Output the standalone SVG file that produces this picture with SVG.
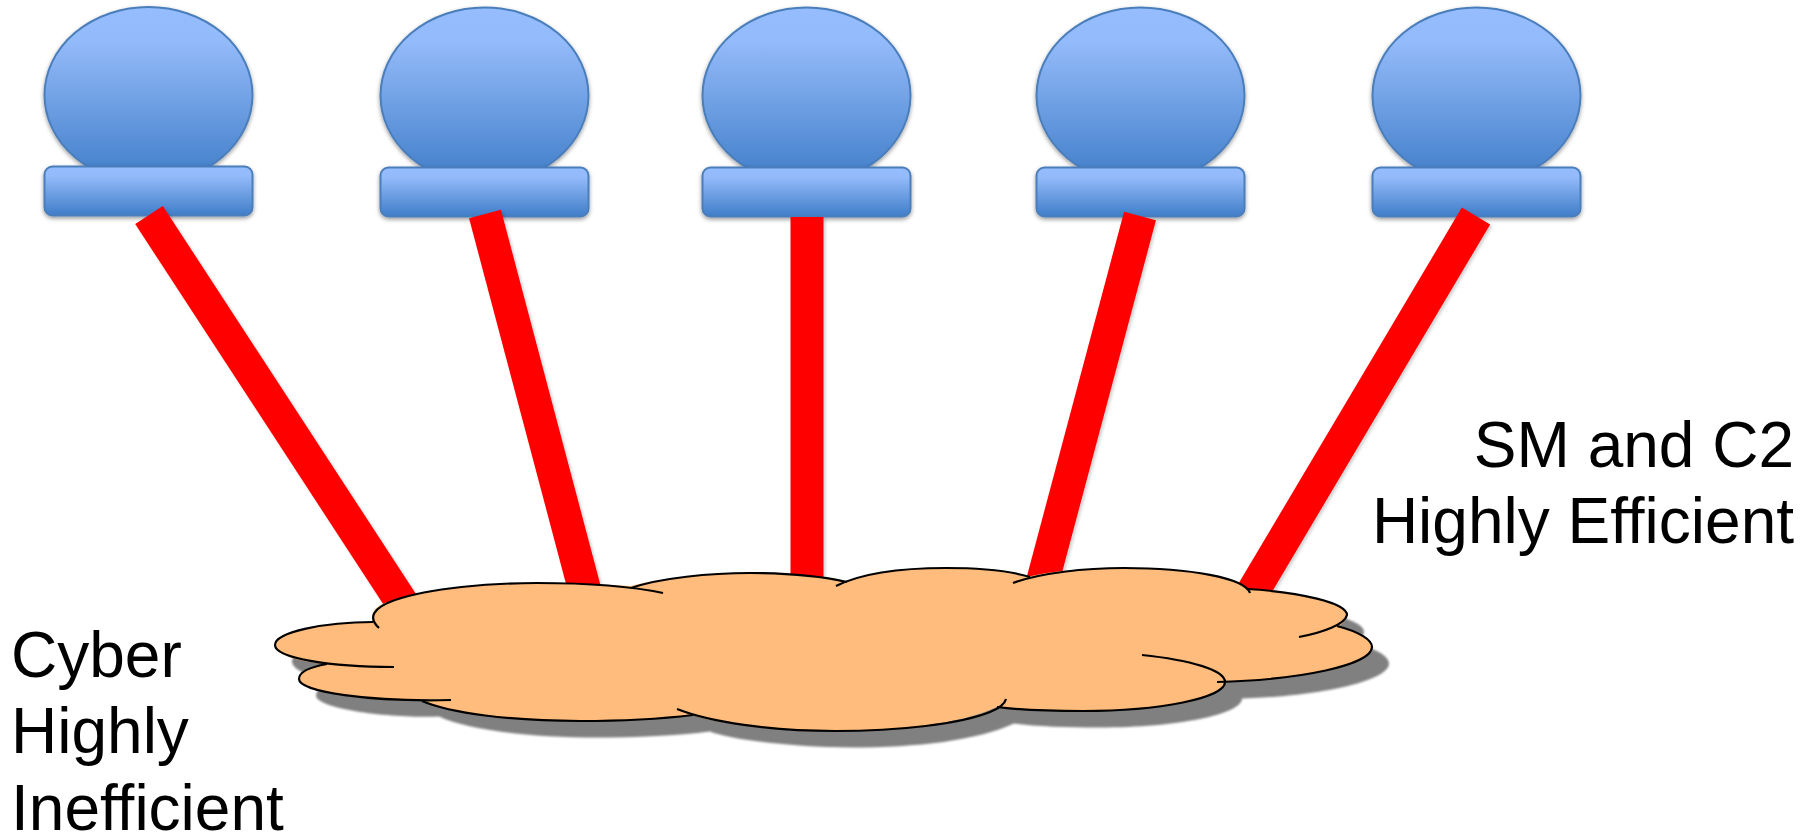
<svg xmlns="http://www.w3.org/2000/svg" width="1812" height="838" viewBox="0 0 1812 838">
<style>
.b{fill:url(#blue);stroke:#4a7ebb;stroke-width:2;filter:url(#soft)}
.l{stroke:#f00;stroke-width:33;fill:none;filter:url(#soft2)}
.c{fill:none;stroke:#000;stroke-width:2.2;stroke-linecap:butt}
.t{font-family:"Liberation Sans",Arial,sans-serif;font-size:64px;fill:#000}
</style>
<defs>
<linearGradient id="blue" x1="0" y1="0" x2="0" y2="1"><stop offset="0" stop-color="#95bdff"/><stop offset=".2" stop-color="#93baf9"/><stop offset="1" stop-color="#3f7dc8"/></linearGradient>
<filter id="soft" x="-10%" y="-10%" width="120%" height="125%"><feDropShadow dx="0" dy="2" stdDeviation="2" flood-color="#000" flood-opacity=".4"/></filter>
<filter id="soft2" filterUnits="userSpaceOnUse" x="0" y="0" width="1812" height="838"><feDropShadow dx="2" dy="2" stdDeviation="1.5" flood-color="#000" flood-opacity=".18"/></filter>
<filter id="blur" x="-5%" y="-10%" width="110%" height="120%"><feGaussianBlur stdDeviation="0.8"/></filter>
<path id="sil" d="M275,645 C275,632 325,622 373,622 C368,608 385,602 395,600 C430,588 490,583 537,583 C570,583 605,585 631,586 C660,578 710,573 750,573 C790,573 820,577 847,582 C860,574 900,568 946,568 C975,568 1005,571 1027,577 C1050,571 1085,568 1124,568 C1190,568 1240,578 1247,589 C1300,592 1347,603 1347,615 C1347,619 1343,624 1337,627 C1360,632 1372,640 1372,647 C1372,665 1300,680 1225,682 C1225,698 1160,711 1083,711 C1050,711 1020,710 997,707 C960,724 900,731 835,731 C770,731 710,722 693,715 C660,719 620,721 580,721 C510,721 450,713 422,700 C370,702 299,692 299,679 C299,672 310,667 327,664 C300,662 275,655 275,645 Z"/>
</defs>
<g id="node1"><ellipse class="b" cx="148.500" cy="95" rx="104" ry="88"/><rect class="b" x="44.500" y="166.500" width="208" height="49" rx="8"/></g>
<g id="node2"><ellipse class="b" cx="484.500" cy="95.500" rx="104" ry="88"/><rect class="b" x="380.500" y="167.500" width="208" height="49" rx="8"/></g>
<g id="node3"><ellipse class="b" cx="806.500" cy="95.500" rx="104" ry="88"/><rect class="b" x="702.500" y="167.500" width="208" height="49" rx="8"/></g>
<g id="node4"><ellipse class="b" cx="1140.500" cy="95.500" rx="104" ry="88"/><rect class="b" x="1036.500" y="167.500" width="208" height="49" rx="8"/></g>
<g id="node5"><ellipse class="b" cx="1476.500" cy="95.500" rx="104" ry="88"/><rect class="b" x="1372.500" y="167.500" width="208" height="49" rx="8"/></g>
<g id="connectors">
<line class="l" x1="149" y1="215" x2="410" y2="615"/>
<line class="l" x1="485" y1="214" x2="590" y2="610"/>
<line class="l" x1="807" y1="217" x2="807" y2="610"/>
<line class="l" x1="1140" y1="216" x2="1035" y2="610"/>
<line class="l" x1="1476" y1="216" x2="1242" y2="610"/>
</g>
<g id="cloud">
<use href="#sil" fill="#808080" transform="translate(17,16.500)" filter="url(#blur)"/>
<use href="#sil" fill="#ffbc7c"/>
<path class="c" d="M373,622 C325,622 275,632 275,645 C275,658 330,667 394,667"/>
<path class="c" d="M327,664 C310,667 299,672 299,679 C299,692 370,702 451,700"/>
<path class="c" d="M379,628 C368,618 372,608 395,600 C430,588 490,583 537,583 C585,583 630,586 663,593"/>
<path class="c" d="M631,588 C660,578 710,573 750,573 C790,573 825,577 847,582"/>
<path class="c" d="M836,586 C860,574 900,568 946,568 C980,568 1010,571 1030,577"/>
<path class="c" d="M1013,583 C1040,573 1085,568 1124,568 C1190,568 1245,578 1250,593"/>
<path class="c" d="M1247,589 C1300,592 1347,603 1347,615 C1345,624 1325,632 1299,637"/>
<path class="c" d="M1337,626 C1360,632 1372,640 1372,647 C1372,665 1300,680 1217,682"/>
<path class="c" d="M1142,655 C1190,660 1225,670 1225,682 C1225,698 1160,711 1083,711 C1050,711 1020,710 997,707"/>
<path class="c" d="M1006,699 C1005,703 1000,708 990,712 C960,724 900,731 835,731 C770,731 710,722 677,709"/>
<path class="c" d="M693,715 C660,719 620,721 580,721 C510,721 450,713 422,701"/>
</g>
<g id="labels">
<text class="t" x="1794" y="467" text-anchor="end">SM and C2</text>
<text class="t" x="1794" y="543" text-anchor="end">Highly Efficient</text>
<text class="t" x="11" y="677">Cyber</text>
<text class="t" x="11" y="753">Highly</text>
<text class="t" x="11" y="830">Inefficient</text>
</g>
</svg>
